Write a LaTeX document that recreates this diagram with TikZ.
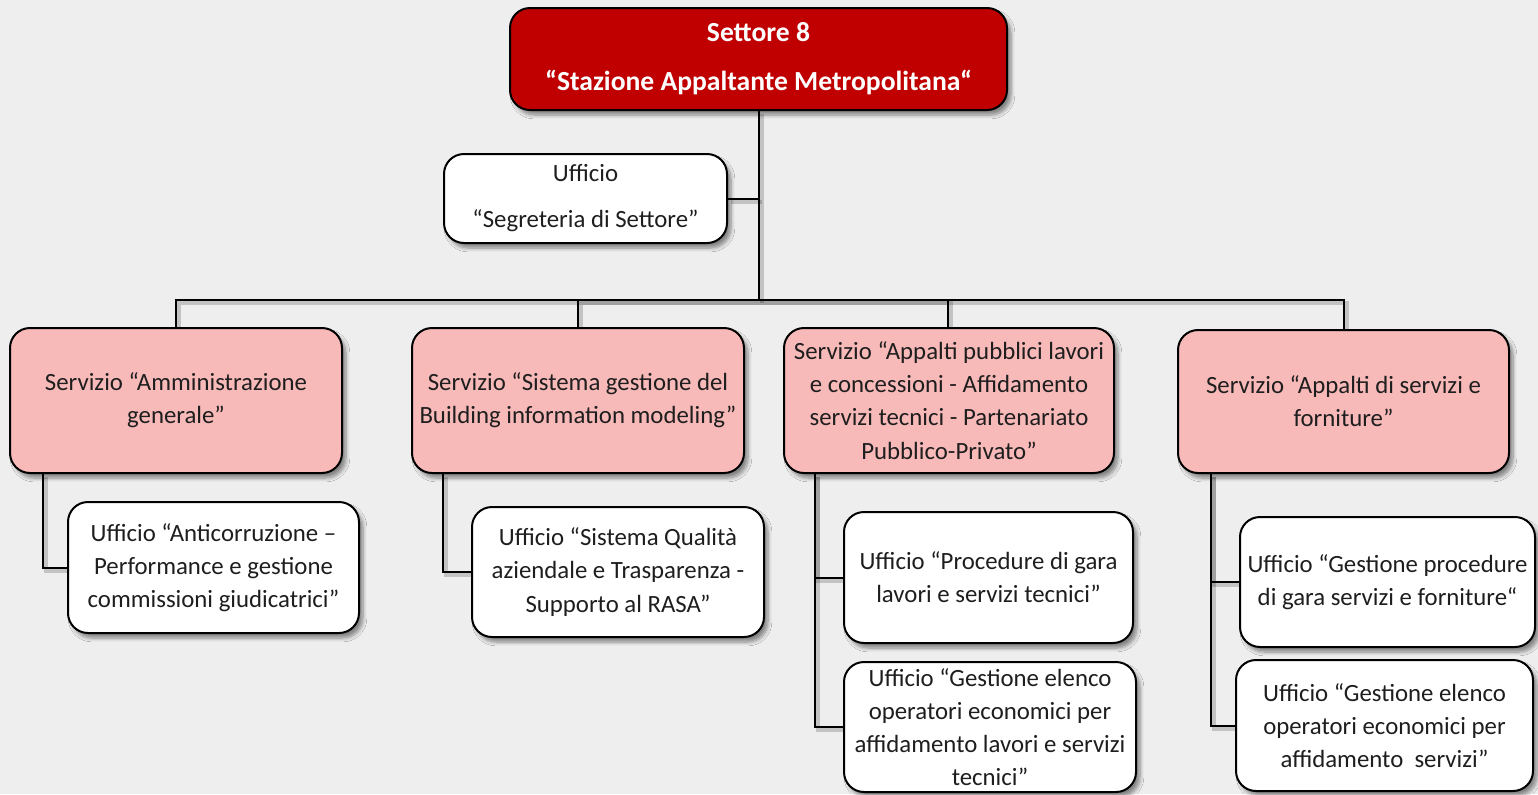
\documentclass[tikz,border=0pt]{standalone}
\usepackage{fontspec}
\setmainfont{Carlito}
\usetikzlibrary{shadows.blur,backgrounds}
\definecolor{bgc}{HTML}{EEEEEE}
\definecolor{topred}{HTML}{C00000}
\definecolor{pinkbox}{HTML}{F8B9B9}
\definecolor{txt}{HTML}{1E1E1E}
\tikzset{
  boxbase/.style={draw=black, line width=1pt, rounded corners=10pt, align=center, text=txt,
    inner sep=0pt, blur shadow={shadow xshift=2pt, shadow yshift=-2.5pt, shadow blur steps=6, shadow opacity=45}},
  topbox/.style={boxbase, fill=topred, text=white, font=\fontsize{13.8}{24.5}\selectfont\bfseries},
  segbox/.style={boxbase, fill=white, font=\fontsize{12.4}{23}\selectfont},
  servbox/.style={boxbase, fill=pinkbox, font=\fontsize{12.4}{16.6}\selectfont},
  uffbox/.style={boxbase, fill=white, font=\fontsize{12.4}{16.6}\selectfont},
  conn/.style={draw=black, line width=1pt},
  connsh/.style={draw=black, opacity=0.18, line width=2pt, transform canvas={xshift=1.5pt, yshift=-1.5pt}},
}
\begin{document}
\begin{tikzpicture}[x=0.5pt, y=-0.5pt]
\useasboundingbox (0,0) rectangle (1538,794);

% top box
\node[topbox, minimum width=248.5pt, minimum height=51pt] (top) at (758.5,59)
  {Settore 8\\“Stazione Appaltante Metropolitana“};
% segreteria
\node[segbox, minimum width=141.5pt, minimum height=44.5pt] (seg) at (585.5,198.5)
  {Ufficio\\“Segreteria di Settore”};

% services
\node[servbox, minimum width=166pt, minimum height=72.5pt] (S1) at (176,400.5)
  {Servizio “Amministrazione\\generale”};
\node[servbox, minimum width=166pt, minimum height=72.5pt] (S2) at (578,400.5)
  {Servizio “Sistema gestione del\\Building information modeling”};
\node[servbox, minimum width=165pt, minimum height=72.5pt] (S3) at (949,400.5)
  {Servizio “Appalti pubblici lavori\\e concessioni - Affidamento\\servizi tecnici - Partenariato\\Pubblico-Privato”};
\node[servbox, minimum width=165.5pt, minimum height=71.5pt] (S4) at (1343.5,401.5)
  {Servizio “Appalti di servizi e\\forniture”};

% uffici
\node[uffbox, minimum width=145.5pt, minimum height=65.5pt] (U1) at (213.5,567.5)
  {Ufficio “Anticorruzione –\\Performance e gestione\\commissioni giudicatrici”};
\node[uffbox, minimum width=146pt, minimum height=65pt] (U2) at (618,572)
  {Ufficio “Sistema Qualità\\aziendale e Trasparenza -\\Supporto al RASA”};
\node[uffbox, minimum width=144.5pt, minimum height=65.5pt] (U3a) at (988.5,577.5)
  {Ufficio “Procedure di gara\\lavori e servizi tecnici”};
\node[uffbox, minimum width=146pt, minimum height=65pt] (U3b) at (990,727)
  {Ufficio “Gestione elenco\\operatori economici per\\affidamento lavori e servizi\\tecnici”};
\node[uffbox, minimum width=147.5pt, minimum height=65pt] (U4a) at (1387.5,582)
  {Ufficio “Gestione procedure\\di gara servizi e forniture“};
\node[uffbox, minimum width=148.5pt, minimum height=65.5pt] (U4b) at (1384.5,725.5)
  {Ufficio “Gestione elenco\\operatori economici per\\affidamento\ \ servizi”};

\begin{scope}[on background layer]
\fill[bgc] (0,0) rectangle (1538,794);
\coordinate (bus) at (759,300);
\foreach \st in {connsh,conn}{
  \path[\st] ([xshift=0.25pt]top.south) -- (bus);
  \path[\st] (seg.east) -- (seg.east -| bus);
  \path[\st] (bus) -| (S1.north);
  \path[\st] (bus) -| (S2.north);
  \path[\st] (bus) -| ([xshift=-0.5pt]S3.north);
  \path[\st] (bus) -| (S4.north);
  \path[\st] ([xshift=17pt]S1.south west) |- (U1.west);
  \path[\st] ([xshift=16pt]S2.south west) |- (U2.west);
  \path[\st] ([xshift=16pt]S3.south west) |- (U3a.west);
  \path[\st] ([xshift=16pt]S3.south west) |- (U3b.west);
  \path[\st] ([xshift=17pt]S4.south west) |- (U4a.west);
  \path[\st] ([xshift=17pt]S4.south west) |- (U4b.west);
}
\end{scope}
\end{tikzpicture}
\end{document}
